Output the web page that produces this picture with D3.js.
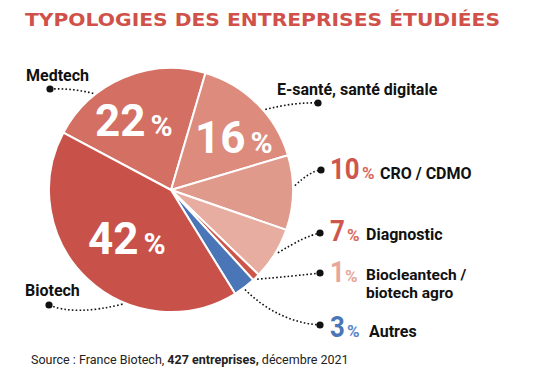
<!DOCTYPE html>
<html><head><meta charset="utf-8">
<script src="https://cdn.jsdelivr.net/npm/d3@7"></script>
<style>
html,body{margin:0;padding:0;background:#fff;}
text{font-family:Roboto, "Noto Sans", sans-serif;}
</style></head>
<body><svg id="c" width="534" height="385"></svg>
<script>
// ---- data ----
const categories = ["Medtech","E-santé, santé digitale","CRO / CDMO","Diagnostic","Biocleantech / biotech agro","Autres","Biotech"];
const values = [22,16,10,7,1,3,42];
const sliceColors = ["#d46f63","#dc8b7d","#e09a8c","#e6ada0","#cc5448","#4a76b8","#c8524a"];
const title = "TYPOLOGIES DES ENTREPRISES ÉTUDIÉES";
const sourceParts = ["Source : France Biotech, ","427 entreprises,"," décembre 2021"];

// ---- layout ----
const W=534,H=385, cx=171, cy=190, R=122;
const svg=d3.select("#c");

svg.append("text").attr("x",25).attr("y",26).attr("textLength",475).attr("lengthAdjust","spacingAndGlyphs")
  .style("font-family","'DejaVu Sans', sans-serif").style("font-weight","bold").style("font-size","18px")
  .attr("fill","#d0514a").text(title);

const pie=d3.pie().sort(null).value(d=>d).startAngle(-62*Math.PI/180).endAngle(-62*Math.PI/180+2*Math.PI);
const arcs=pie(values);
const arc=d3.arc().innerRadius(0).outerRadius(R);
const g=svg.append("g").attr("transform",`translate(${cx},${cy})`);
g.selectAll("path").data(arcs).join("path").attr("d",arc)
  .attr("fill",(d,i)=>sliceColors[i]).attr("stroke","#fff").attr("stroke-width",2).attr("stroke-linejoin","round");

// big in-slice labels
const inside=[{i:0,x:95,y:136},{i:1,x:195,y:153},{i:6,x:88,y:254}];
inside.forEach(o=>{
  const t=svg.append("text").attr("x",o.x).attr("y",o.y).attr("fill","#fff").style("font-weight","bold");
  t.append("tspan").style("font-size","44px").text(values[o.i]);
  t.append("tspan").attr("dx",5).style("font-size","30px").text("%");
});

// leader lines: pie angle (deg) for start, dot position, control point
const leaders=[
  {i:0, a:-38.8, dot:[50,89], c:[72,88]},
  {i:6, a:-157, dot:[49,305], c:[75,316]},
  {i:1, a:49.5, dot:[318,103], c:[295,102]},
  {i:2, a:88, dot:[321,170], c:[310,171]},
  {i:3, a:120.5, dot:[320,233], c:[305,236]},
  {i:4, a:136, dot:[320,273], c:[295,276]},
  {i:5, a:143.4, dot:[320,325], c:[278,322]}
];
leaders.forEach(l=>{
  const a=l.a*Math.PI/180;
  const px=cx+Math.sin(a)*(R+2), py=cy-Math.cos(a)*(R+2);
  svg.append("path").attr("d",`M${px},${py}Q${l.c[0]},${l.c[1]} ${l.dot[0]},${l.dot[1]}`)
    .attr("fill","none").attr("stroke","#111").attr("stroke-width",1.6).attr("stroke-dasharray","1.6,2.2");
  svg.append("circle").attr("cx",l.dot[0]).attr("cy",l.dot[1]).attr("r",3.6).attr("fill","#111");
});

// labels
const lab=(x,y,s,fs)=>svg.append("text").attr("x",x).attr("y",y).attr("fill","#111")
  .style("font-weight","bold").style("font-size",(fs||16)+"px").text(s);
lab(26,81,categories[0]);
lab(25,296,categories[6]);
lab(277,95,categories[1]);

// right labels with numbers
const numCol=["#cf564c","#cf564c","#e8a69b","#4a76b8"];
const pctCol=["#d9675d","#d9675d","#e8a69b","#5a86c6"];
const rights=[
  {i:2,y:179,px:362,tx:380,ty:[179],fs:16,lines:["CRO / CDMO"]},
  {i:3,y:241,px:347,tx:366,ty:[240],fs:16,lines:["Diagnostic"]},
  {i:4,y:282,px:345,tx:366,ty:[280,297.8],fs:15.5,lines:["Biocleantech /","biotech agro"]},
  {i:5,y:337,px:347,tx:369,ty:[337],fs:16,lines:["Autres"]}
];
rights.forEach((r,k)=>{
  svg.append("text").attr("transform",`translate(330,${r.y}) scale(0.86,1)`)
    .attr("fill",numCol[k]).style("font-weight","bold").style("font-size","30px").text(values[r.i]);
  svg.append("text").attr("x",r.px).attr("y",r.y).attr("fill",pctCol[k]).style("font-weight","bold").style("font-size","17px").text("%");
  r.lines.forEach((s,j)=>lab(r.tx, r.ty[j], s, r.fs));
});

// source
const st=svg.append("text").attr("x",31).attr("y",364).attr("fill","#222").style("font-size","12.5px");
sourceParts.forEach((s,i)=>st.append("tspan").style("font-weight",i==1?"bold":"normal").text(s));
</script></body></html>
